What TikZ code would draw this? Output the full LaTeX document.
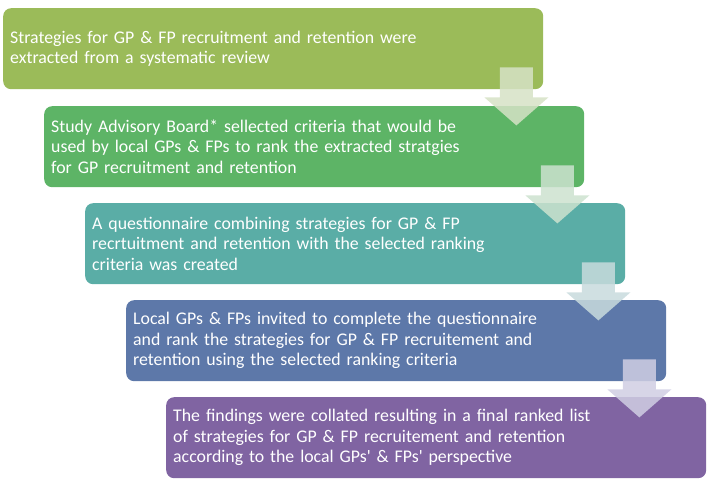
\documentclass[tikz,border=0pt]{standalone}
\usepackage{fontspec}
\setmainfont{Carlito}
\usetikzlibrary{calc,positioning}

\definecolor{stepA}{HTML}{9BBB59}
\definecolor{stepB}{HTML}{5DB466}
\definecolor{stepC}{HTML}{5AADA6}
\definecolor{stepD}{HTML}{5D78A9}
\definecolor{stepE}{HTML}{8064A2}
\definecolor{arrA}{HTML}{D6E2C6}
\definecolor{arrB}{HTML}{CCE2CF}
\definecolor{arrC}{HTML}{C8DBDD}
\definecolor{arrD}{HTML}{D0CEE3}

\tikzset{
  stepbox/.style={rounded corners=8pt, minimum width=540pt, minimum height=81pt,
    text width=526pt, inner xsep=7pt, align=left, anchor=north west,
    text=white, font=\fontsize{17.8}{20.5}\selectfont},
  downarrow/.style={fill=#1, fill opacity=0.85}
}

\begin{document}
\begin{tikzpicture}[x=1pt,y=-1pt]
  \useasboundingbox (0,0) rectangle (712,481);
  % Steps
  \node[stepbox,fill=stepA] (s1) at (3,8)
    {Strategies for GP \& FP recruitment and retention were\\
     extracted from a systematic review};
  \node[stepbox,fill=stepB] (s2) at (44,106)
    {Study Advisory Board* sellected criteria that would be\\
     used by local GPs \& FPs to rank the extracted stratgies\\
     for GP recruitment and retention};
  \node[stepbox,fill=stepC] (s3) at (85,203)
    {A questionnaire combining strategies for GP \& FP\\
     recrtuitment and retention with the selected ranking\\
     criteria was created};
  \node[stepbox,fill=stepD] (s4) at (126,300)
    {Local GPs \& FPs invited to complete the questionnaire\\
     and rank the strategies for GP \& FP recruitement and\\
     retention using the selected ranking criteria};
  \node[stepbox,fill=stepE] (s5) at (166,397)
    {The findings were collated resulting in a final ranked list\\
     of strategies for GP \& FP recruitement and retention\\
     according to the local GPs\textquotesingle{} \& FPs\textquotesingle{} perspective};

  % Block arrows between steps
  \foreach \a/\c in {s1/arrA,s2/arrB,s3/arrC,s4/arrD}
    \fill[downarrow=\c] ($(\a.south east)+(-43.5,-22)$) -- ($(\a.south east)+(-10.5,-22)$)
      -- ($(\a.south east)+(-10.5,8)$) -- ($(\a.south east)+(5,8)$)
      -- ($(\a.south east)+(-27,36)$) -- ($(\a.south east)+(-59,8)$)
      -- ($(\a.south east)+(-43.5,8)$) -- cycle;
\end{tikzpicture}
\end{document}
